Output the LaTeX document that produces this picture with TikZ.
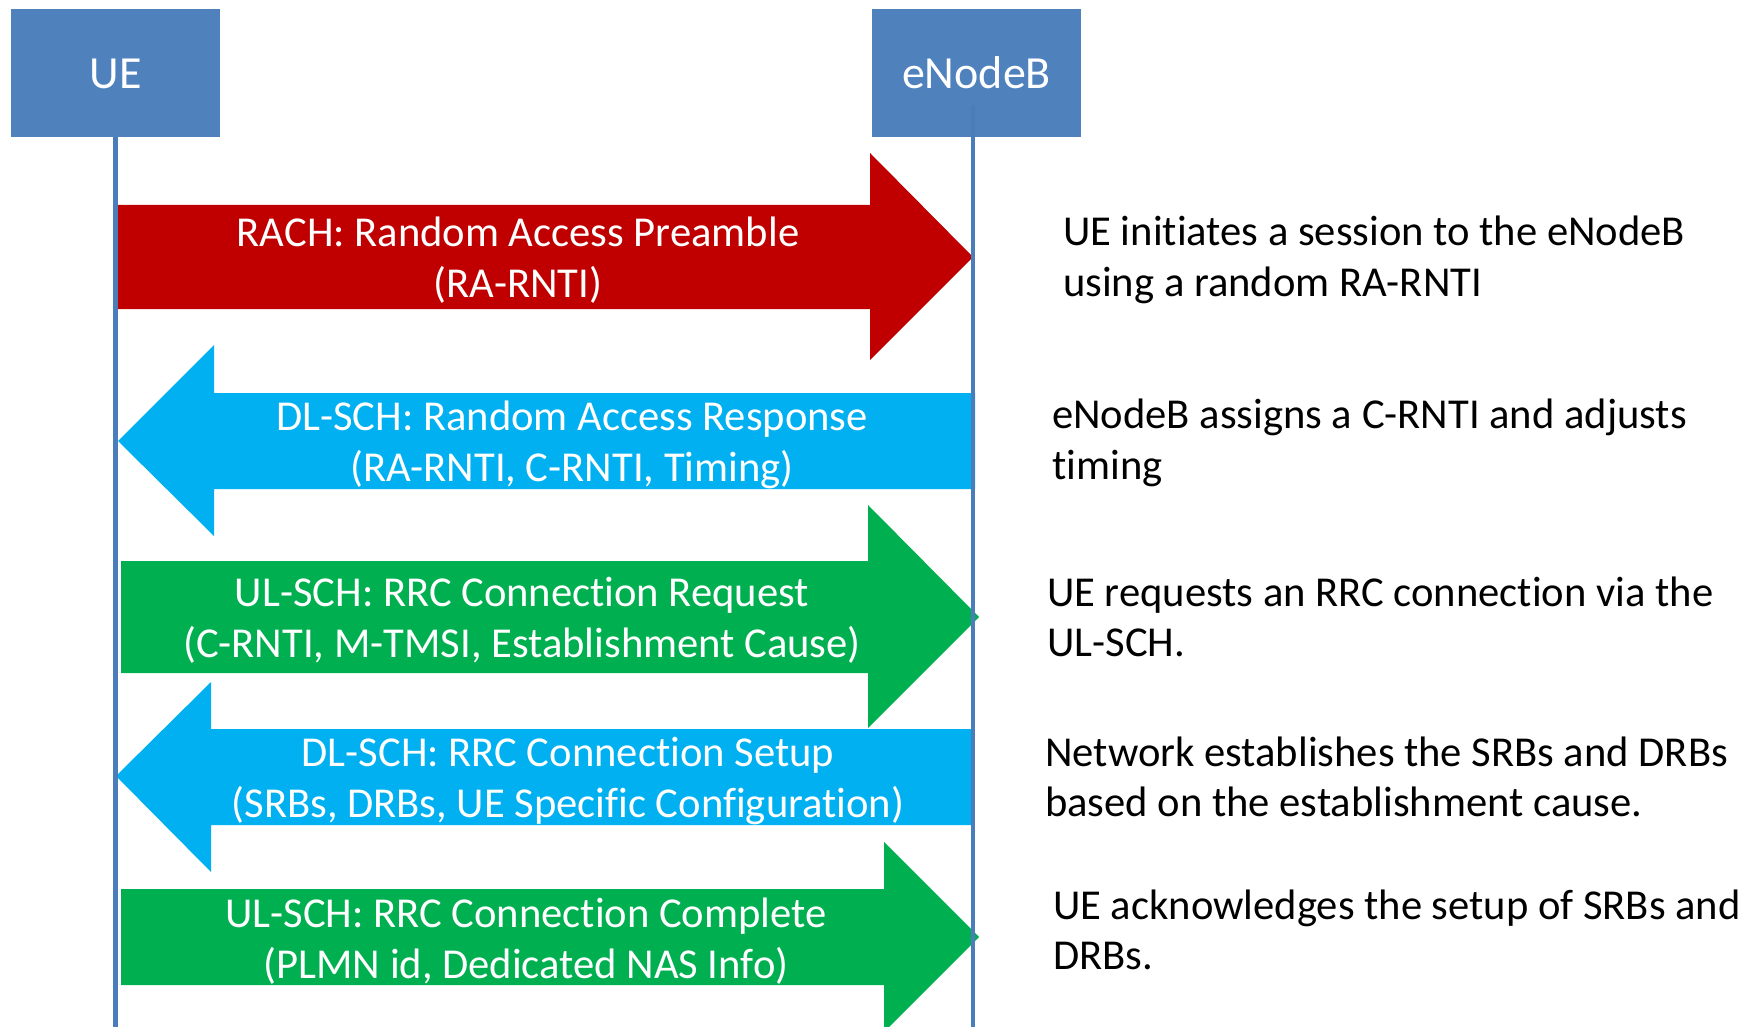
\documentclass[tikz,border=0pt]{standalone}
\usepackage{fontspec}
\setmainfont{Carlito}[Ligatures=NoCommon]
\definecolor{boxblue}{HTML}{4F81BD}
\definecolor{lineblue}{HTML}{4A7DBA}
\definecolor{rachred}{HTML}{C00000}
\definecolor{dlblue}{HTML}{00B0F0}
\definecolor{ulgreen}{HTML}{00B050}
\begin{document}
\begin{tikzpicture}[x=1pt,y=-1pt,
  entity/.style={fill=boxblue,text=white,minimum width=209pt,minimum height=128pt,
    inner sep=0pt,text height=32pt,text depth=0pt,font=\fontsize{46}{55}\selectfont},
  lifeline/.style={draw=lineblue,line width=4.5pt},
  msgtext/.style={text=white,align=center,inner sep=0pt,font=\fontsize{42.6}{51}\selectfont},
  notetext/.style={text=black,align=left,anchor=west,inner sep=0pt,font=\fontsize{42.6}{50.5}\selectfont}]
\useasboundingbox (0,0) rectangle (1756,1027);

% entities
\node[entity] (ue) at (115.5,73) {UE};
\node[entity] (enb) at (976.5,73) {eNodeB};

% message arrows
\fill[rachred] (115,205) -- (870,205) -- (870,153) -- (973,257) -- (870,360) -- (870,309) -- (115,309) -- cycle;
\fill[dlblue] (975,393) -- (214,393) -- (214,345) -- (118,441) -- (214,536) -- (214,489) -- (975,489) -- cycle;
\fill[ulgreen] (121,561) -- (868,561) -- (868,505) -- (979,617) -- (868,728) -- (868,673) -- (121,673) -- cycle;
\fill[dlblue] (972,729) -- (211,729) -- (211,682) -- (116,776) -- (211,872) -- (211,825) -- (972,825) -- cycle;
\fill[ulgreen] (121,889) -- (884,889) -- (884,842) -- (979,937) -- (884,1032) -- (884,985) -- (121,985) -- cycle;

% lifelines
\coordinate (ueEnd) at (115.5,1027);
\coordinate (enbTop) at (973,105);
\coordinate (enbEnd) at (973,1027);
\draw[lifeline] (ue.south) -- (ueEnd);
\draw[lifeline] (enbTop) -- (enbEnd);

% message labels
\node[msgtext] (m1) at (518,260) {RACH: Random Access Preamble\\(RA-RNTI)};
\node[msgtext] (m2) at (572,445) {DL-SCH: Random Access Response\\(RA-RNTI, C-RNTI, Timing)};
\node[msgtext] (m3) at (522,620) {UL-SCH: RRC Connection Request\\(C-RNTI, M-TMSI, Establishment Cause)};
\node[msgtext] (m4) at (568,781) {DL-SCH: RRC Connection Setup\\(SRBs, DRBs, UE Specific Configuration)};
\node[msgtext] (m5) at (526,941) {UL-SCH: RRC Connection Complete\\(PLMN id, Dedicated NAS Info)};

% descriptions
\node[notetext] (n1) at (1063,260) {UE initiates a session to the eNodeB\\using a random RA-RNTI};
\node[notetext] (n2) at (1052,443) {eNodeB assigns a C-RNTI and adjusts\\timing};
\node[notetext] (n3) at (1047,617) {UE requests an RRC connection via the\\UL-SCH.};
\node[notetext] (n4) at (1045,777) {Network establishes the SRBs and DRBs\\based on the establishment cause.};
\node[notetext] (n5) at (1053,930) {UE acknowledges the setup of SRBs and\\DRBs.};
\end{tikzpicture}
\end{document}
